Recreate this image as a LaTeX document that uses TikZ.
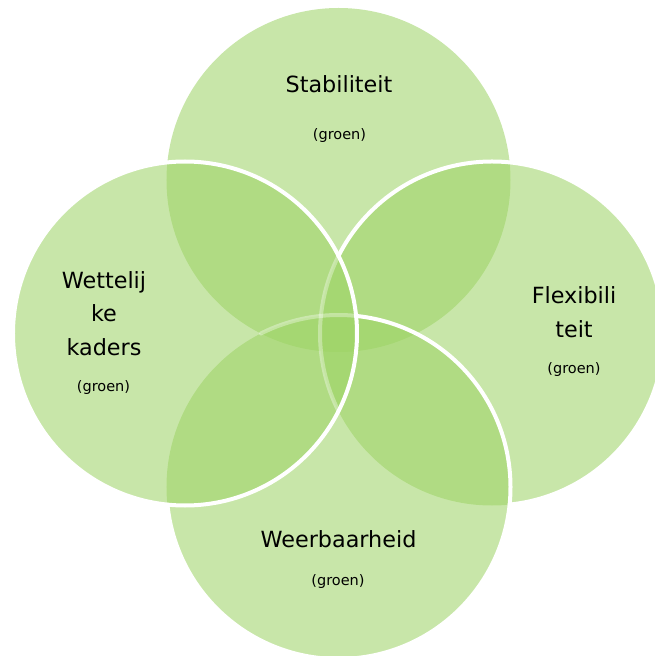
\documentclass[tikz,border=0pt]{standalone}
\usepackage{fontspec}
\setmainfont{DejaVu Sans}
\definecolor{venngreen}{RGB}{157,211,101}
\begin{document}
\begin{tikzpicture}[x=1pt, y=1pt, line cap=round, line join=round,
    venn/.style={fill=venngreen, fill opacity=0.56},
    rim/.style={draw=white, line width=4pt},
    faintrim/.style={draw=white, draw opacity=0.35, line width=4pt},
    titel/.style={font=\fontsize{22.3}{33.5}\selectfont, align=center, anchor=base, inner sep=0pt},
    kleur/.style={font=\fontsize{14.5}{17}\selectfont, inner sep=0pt}]

                \useasboundingbox (-338.5,-322.5) rectangle (316.5,333.5);
                \clip (-338.5,-322.5) rectangle (316.5,333.5);

                \coordinate (ctop) at (0,153.5);
                \coordinate (cleft) at (-153.5,0);
                \coordinate (cright) at (153.5,0);
                \coordinate (cbottom) at (0,-153.5);

                \fill[venn] (ctop) circle (172);
                \fill[venn] (cright) circle (172);
                \fill[venn] (cbottom) circle (172);
                \fill[venn] (cleft) circle (172);

                % rims: the parts lying under a later circle only show faintly
                \draw[rim] ([shift={(-84.1:172)}]cright) arc (-84.1:153.2:172);
                \draw[faintrim] ([shift={(153.2:172)}]cright) arc (153.2:206.8:172);
                \draw[rim] ([shift={(185.9:172)}]cbottom) arc (185.9:444.1:172);
                \draw[faintrim] ([shift={(84.1:172)}]cbottom) arc (84.1:116.8:172);
                \draw[rim] (cleft) circle (172);

                \node[titel] (stab) at (0.5,240.5) {Stabiliteit};
                \node[kleur] (stabsub) at (1,198) {(groen)};

                \node[titel] (wet) at (-234.5,-21.5) {Wettelij\\ke\\kaders};
                \node[kleur] (wetsub) at (-235,-54.5) {(groen)};

                \node[titel] (flex) at (235.5,-3.5) {Flexibili\\teit};
                \node[kleur] (flexsub) at (235.5,-36.5) {(groen)};

                \node[titel] (weer) at (0,-213.5) {Weerbaarheid};
                \node[kleur] (weersub) at (-0.5,-248) {(groen)};

\end{tikzpicture}
\end{document}
